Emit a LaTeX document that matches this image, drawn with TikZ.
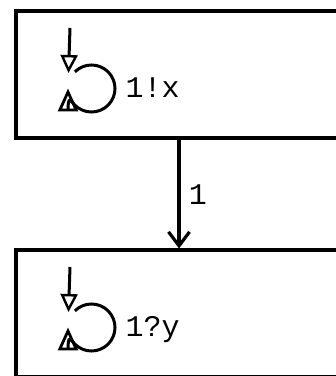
\documentclass[tikz,border=0pt]{standalone}
\usepackage{fontspec}
\newfontfamily\codefont{Liberation Mono}
\usetikzlibrary{arrows.meta}

\begin{document}
\begin{tikzpicture}[x=1pt, y=1pt, every node/.style={font=\codefont\fontsize{30}{30}\selectfont}, sbox/.style={draw, line width=3.6pt, rectangle, minimum width=345pt, minimum height=127pt, inner sep=0pt, anchor=north west}, init/.style={line width=3pt, -{Triangle[open, length=18pt, width=17pt, line width=2.4pt]}}, loopy/.style={line width=3pt, -{Triangle[open, length=23pt, width=20pt, line width=2.8pt]}}, trans/.style={line width=3.2pt, -{Straight Barb[length=14pt, width=21pt, line width=3.2pt]}}]
	\useasboundingbox (0,0) rectangle (336,376);
	\clip (0,0) rectangle (336,376);
	\node[sbox] (s1) at (14.5,366.5) {};
	\node[sbox] (s2) at (14.5,127.5) {};
	\coordinate (xt) at (179,0);
	\foreach \n/\l in {s1/{1!x}, s2/{1?y}} {
		\draw[init] ([shift={(55.5,-18.5)}]\n.north west) -- ++(-1.5,-45);
		\draw[loopy] ([shift={(77,-79)}]\n.north west) ++(135:23.5) arc[start angle=135, end angle=-180, radius=23.5];
		\node[anchor=base west, inner sep=0pt] (l\n) at ([shift={(111,-88)}]\n.north west) {\l};
	}
	\draw[trans] (s1.south -| xt) -- (s2.north -| xt) node[midway, right=5pt] {1};
\end{tikzpicture}
\end{document}
